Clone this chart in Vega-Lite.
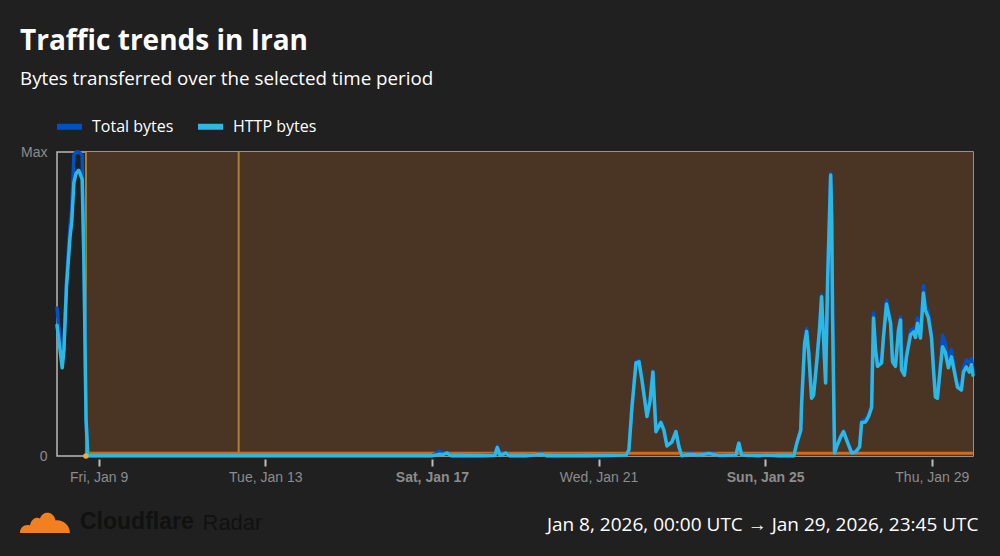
{
  "$schema": "https://vega.github.io/schema/vega-lite/v6.json",
  "width": 916,
  "height": 304,
  "autosize": "none",
  "padding": {"left": 57, "top": 152, "right": 27, "bottom": 100},
  "background": "#202020",
  "title": {
    "text": "Traffic trends in Iran",
    "subtitle": "Bytes transferred over the selected time period",
    "anchor": "start",
    "frame": "group",
    "dx": -37,
    "offset": 22,
    "font": "Open Sans",
    "fontSize": 28,
    "fontWeight": "bold",
    "color": "#ffffff",
    "subtitleFont": "Open Sans",
    "subtitleFontSize": 18.8,
    "subtitleColor": "#ffffff",
    "subtitlePadding": 14
  },
  "config": {
    "view": {"stroke": "#b8b8b8", "strokeWidth": 1.5, "fill": null}
  },
  "datasets": {
    "annot": [
      {"start": "2026-01-08T16:40:00Z", "end": "2026-01-29T23:45:00Z", "mark": "2026-01-12T08:40:00Z"}
    ],
    "traffic": [
      {"t": "2026-01-08T00:00:00Z", "total": 48.7, "http": 43},
      {"t": "2026-01-08T01:45:00Z", "total": 38, "http": 35},
      {"t": "2026-01-08T03:00:00Z", "total": 30, "http": 29},
      {"t": "2026-01-08T04:00:00Z", "total": 36.5, "http": 35},
      {"t": "2026-01-08T05:30:00Z", "total": 58, "http": 56},
      {"t": "2026-01-08T07:30:00Z", "total": 76, "http": 72},
      {"t": "2026-01-08T08:30:00Z", "total": 81, "http": 77},
      {"t": "2026-01-08T09:45:00Z", "total": 99, "http": 90},
      {"t": "2026-01-08T11:00:00Z", "total": 100, "http": 93},
      {"t": "2026-01-08T12:30:00Z", "total": 100, "http": 94},
      {"t": "2026-01-08T14:30:00Z", "total": 99, "http": 91},
      {"t": "2026-01-08T15:30:00Z", "total": 68, "http": 64},
      {"t": "2026-01-08T16:45:00Z", "total": 12, "http": 12},
      {"t": "2026-01-08T17:45:00Z", "total": 0.1, "http": 0.1},
      {"t": "2026-01-09T00:00:00Z", "total": 0.1, "http": 0.05},
      {"t": "2026-01-09T12:00:00Z", "total": 0.1, "http": 0.05},
      {"t": "2026-01-10T00:00:00Z", "total": 0.05, "http": 0.05},
      {"t": "2026-01-10T12:00:00Z", "total": 0.1, "http": 0.05},
      {"t": "2026-01-11T00:00:00Z", "total": 0.05, "http": 0.05},
      {"t": "2026-01-11T12:00:00Z", "total": 0.1, "http": 0.05},
      {"t": "2026-01-12T00:00:00Z", "total": 0.05, "http": 0.05},
      {"t": "2026-01-12T12:00:00Z", "total": 0.1, "http": 0.05},
      {"t": "2026-01-13T00:00:00Z", "total": 0.05, "http": 0.05},
      {"t": "2026-01-13T12:00:00Z", "total": 0.1, "http": 0.05},
      {"t": "2026-01-14T00:00:00Z", "total": 0.05, "http": 0.05},
      {"t": "2026-01-14T12:00:00Z", "total": 0.1, "http": 0.05},
      {"t": "2026-01-15T00:00:00Z", "total": 0.05, "http": 0.05},
      {"t": "2026-01-15T12:00:00Z", "total": 0.1, "http": 0.05},
      {"t": "2026-01-16T00:00:00Z", "total": 0.05, "http": 0.05},
      {"t": "2026-01-16T12:00:00Z", "total": 0.1, "http": 0.05},
      {"t": "2026-01-17T00:00:00Z", "total": 0.1, "http": 0.1},
      {"t": "2026-01-17T02:30:00Z", "total": 0.8, "http": 0.3},
      {"t": "2026-01-17T04:15:00Z", "total": 1.6, "http": 0.6},
      {"t": "2026-01-17T06:30:00Z", "total": 0.9, "http": 0.5},
      {"t": "2026-01-17T08:50:00Z", "total": 1.1, "http": 1.0},
      {"t": "2026-01-17T11:10:00Z", "total": 0.2, "http": 0.1},
      {"t": "2026-01-17T18:00:00Z", "total": 0.1, "http": 0.1},
      {"t": "2026-01-18T06:00:00Z", "total": 0.2, "http": 0.1},
      {"t": "2026-01-18T12:15:00Z", "total": 0.3, "http": 0.2},
      {"t": "2026-01-18T13:40:00Z", "total": 3.2, "http": 2.8},
      {"t": "2026-01-18T15:20:00Z", "total": 0.3, "http": 0.2},
      {"t": "2026-01-18T18:45:00Z", "total": 1.1, "http": 1.0},
      {"t": "2026-01-18T20:30:00Z", "total": 0.2, "http": 0.1},
      {"t": "2026-01-19T06:00:00Z", "total": 0.1, "http": 0.1},
      {"t": "2026-01-19T15:30:00Z", "total": 0.7, "http": 0.6},
      {"t": "2026-01-19T18:00:00Z", "total": 0.1, "http": 0.1},
      {"t": "2026-01-20T06:00:00Z", "total": 0.2, "http": 0.1},
      {"t": "2026-01-20T18:00:00Z", "total": 0.1, "http": 0.1},
      {"t": "2026-01-21T06:00:00Z", "total": 0.2, "http": 0.2},
      {"t": "2026-01-21T15:50:00Z", "total": 0.4, "http": 0.3},
      {"t": "2026-01-21T17:30:00Z", "total": 2.2, "http": 2},
      {"t": "2026-01-21T19:15:00Z", "total": 16.5, "http": 16},
      {"t": "2026-01-21T21:35:00Z", "total": 31, "http": 30.6},
      {"t": "2026-01-21T23:20:00Z", "total": 31.5, "http": 31},
      {"t": "2026-01-22T01:00:00Z", "total": 25.5, "http": 25},
      {"t": "2026-01-22T03:55:00Z", "total": 13.3, "http": 13},
      {"t": "2026-01-22T05:40:00Z", "total": 18.3, "http": 18},
      {"t": "2026-01-22T07:20:00Z", "total": 28, "http": 27.6},
      {"t": "2026-01-22T09:05:00Z", "total": 8.2, "http": 8},
      {"t": "2026-01-22T11:55:00Z", "total": 11.3, "http": 11},
      {"t": "2026-01-22T13:40:00Z", "total": 8.7, "http": 8.5},
      {"t": "2026-01-22T15:25:00Z", "total": 3.4, "http": 3.3},
      {"t": "2026-01-22T18:15:00Z", "total": 4.8, "http": 4.6},
      {"t": "2026-01-22T20:35:00Z", "total": 8.2, "http": 8},
      {"t": "2026-01-22T22:20:00Z", "total": 3.1, "http": 3},
      {"t": "2026-01-23T00:00:00Z", "total": 0.2, "http": 0.1},
      {"t": "2026-01-23T04:00:00Z", "total": 0.7, "http": 0.6},
      {"t": "2026-01-23T09:50:00Z", "total": 0.4, "http": 0.3},
      {"t": "2026-01-23T15:30:00Z", "total": 0.9, "http": 0.8},
      {"t": "2026-01-23T21:20:00Z", "total": 0.3, "http": 0.2},
      {"t": "2026-01-24T07:05:00Z", "total": 0.4, "http": 0.3},
      {"t": "2026-01-24T08:50:00Z", "total": 4.4, "http": 4.2},
      {"t": "2026-01-24T10:30:00Z", "total": 0.4, "http": 0.3},
      {"t": "2026-01-24T20:20:00Z", "total": 0.2, "http": 0.1},
      {"t": "2026-01-25T00:00:00Z", "total": 0.4, "http": 0.3},
      {"t": "2026-01-25T07:50:00Z", "total": 0.1, "http": 0.05},
      {"t": "2026-01-25T16:30:00Z", "total": 0.1, "http": 0.05},
      {"t": "2026-01-25T18:10:00Z", "total": 4.2, "http": 4},
      {"t": "2026-01-25T20:30:00Z", "total": 8.8, "http": 8.5},
      {"t": "2026-01-25T21:00:00Z", "total": 17.5, "http": 17},
      {"t": "2026-01-25T22:45:00Z", "total": 38, "http": 37},
      {"t": "2026-01-25T23:55:00Z", "total": 42, "http": 41},
      {"t": "2026-01-26T01:05:00Z", "total": 35, "http": 34},
      {"t": "2026-01-26T02:45:00Z", "total": 19.5, "http": 19},
      {"t": "2026-01-26T03:55:00Z", "total": 20.5, "http": 20},
      {"t": "2026-01-26T05:40:00Z", "total": 31, "http": 30.6},
      {"t": "2026-01-26T07:25:00Z", "total": 43, "http": 42.4},
      {"t": "2026-01-26T08:30:00Z", "total": 53, "http": 52.4},
      {"t": "2026-01-26T09:40:00Z", "total": 38.5, "http": 38},
      {"t": "2026-01-26T10:50:00Z", "total": 24.3, "http": 24},
      {"t": "2026-01-26T12:00:00Z", "total": 58.5, "http": 58},
      {"t": "2026-01-26T13:45:00Z", "total": 93, "http": 92.4},
      {"t": "2026-01-26T14:20:00Z", "total": 79, "http": 78.6},
      {"t": "2026-01-26T14:50:00Z", "total": 46.5, "http": 46},
      {"t": "2026-01-26T16:00:00Z", "total": 1.2, "http": 1},
      {"t": "2026-01-26T17:10:00Z", "total": 3.2, "http": 3},
      {"t": "2026-01-26T19:30:00Z", "total": 6.5, "http": 6.3},
      {"t": "2026-01-26T21:10:00Z", "total": 8.2, "http": 8},
      {"t": "2026-01-26T22:55:00Z", "total": 5.5, "http": 5.3},
      {"t": "2026-01-27T01:50:00Z", "total": 1.2, "http": 1},
      {"t": "2026-01-27T04:05:00Z", "total": 1.5, "http": 1.3},
      {"t": "2026-01-27T06:25:00Z", "total": 3.3, "http": 3},
      {"t": "2026-01-27T07:35:00Z", "total": 11.5, "http": 11},
      {"t": "2026-01-27T09:50:00Z", "total": 12.2, "http": 11.2},
      {"t": "2026-01-27T11:35:00Z", "total": 13.6, "http": 13},
      {"t": "2026-01-27T13:20:00Z", "total": 16.6, "http": 16},
      {"t": "2026-01-27T14:25:00Z", "total": 47, "http": 45.4},
      {"t": "2026-01-27T15:35:00Z", "total": 36, "http": 35},
      {"t": "2026-01-27T16:45:00Z", "total": 30.3, "http": 29.5},
      {"t": "2026-01-27T19:05:00Z", "total": 31.5, "http": 30.6},
      {"t": "2026-01-27T20:10:00Z", "total": 40, "http": 39},
      {"t": "2026-01-27T21:55:00Z", "total": 51.3, "http": 50},
      {"t": "2026-01-28T00:15:00Z", "total": 44.5, "http": 43.7},
      {"t": "2026-01-28T01:25:00Z", "total": 31.8, "http": 31},
      {"t": "2026-01-28T03:05:00Z", "total": 30.3, "http": 29.5},
      {"t": "2026-01-28T04:50:00Z", "total": 42.2, "http": 41.4},
      {"t": "2026-01-28T06:00:00Z", "total": 45.7, "http": 44.7},
      {"t": "2026-01-28T06:35:00Z", "total": 29, "http": 28.3},
      {"t": "2026-01-28T08:15:00Z", "total": 27.4, "http": 26.6},
      {"t": "2026-01-28T09:25:00Z", "total": 33.5, "http": 32.6},
      {"t": "2026-01-28T11:45:00Z", "total": 41.4, "http": 39.8},
      {"t": "2026-01-28T13:30:00Z", "total": 42, "http": 40.8},
      {"t": "2026-01-28T14:35:00Z", "total": 40, "http": 39},
      {"t": "2026-01-28T15:45:00Z", "total": 45.4, "http": 43.7},
      {"t": "2026-01-28T17:30:00Z", "total": 39.5, "http": 38.8},
      {"t": "2026-01-28T19:10:00Z", "total": 56, "http": 53.6},
      {"t": "2026-01-28T20:20:00Z", "total": 49.7, "http": 48},
      {"t": "2026-01-28T22:05:00Z", "total": 47, "http": 45.4},
      {"t": "2026-01-28T23:50:00Z", "total": 40.2, "http": 39},
      {"t": "2026-01-29T01:00:00Z", "total": 29.3, "http": 28.3},
      {"t": "2026-01-29T02:05:00Z", "total": 20.4, "http": 19.4},
      {"t": "2026-01-29T03:15:00Z", "total": 20, "http": 19},
      {"t": "2026-01-29T05:00:00Z", "total": 30.8, "http": 29.3},
      {"t": "2026-01-29T06:10:00Z", "total": 39.8, "http": 35.9},
      {"t": "2026-01-29T07:50:00Z", "total": 37, "http": 34},
      {"t": "2026-01-29T09:35:00Z", "total": 31, "http": 29},
      {"t": "2026-01-29T11:20:00Z", "total": 35, "http": 32.6},
      {"t": "2026-01-29T13:05:00Z", "total": 28.6, "http": 27.6},
      {"t": "2026-01-29T14:45:00Z", "total": 23.7, "http": 22.7},
      {"t": "2026-01-29T17:05:00Z", "total": 22.5, "http": 21.7},
      {"t": "2026-01-29T18:15:00Z", "total": 29.3, "http": 27.6},
      {"t": "2026-01-29T19:55:00Z", "total": 31.6, "http": 29.3},
      {"t": "2026-01-29T21:40:00Z", "total": 30.5, "http": 27.6},
      {"t": "2026-01-29T22:50:00Z", "total": 32, "http": 30},
      {"t": "2026-01-29T23:45:00Z", "total": 28, "http": 26.6}
    ]
  },
  "layer": [
    {
      "data": {"name": "annot"},
      "mark": {"type": "rect", "color": "#4a3524"},
      "encoding": {
        "x": {"field": "start", "type": "temporal"},
        "x2": {"field": "end"}
      }
    },
    {
      "data": {"name": "annot"},
      "mark": {"type": "rule", "color": "#a8822e", "strokeWidth": 2},
      "encoding": {
        "x": {"field": "start", "type": "temporal"}
      }
    },
    {
      "data": {"name": "annot"},
      "mark": {"type": "rule", "color": "#a8822e", "strokeWidth": 2},
      "encoding": {
        "x": {"field": "mark", "type": "temporal"}
      }
    },
    {
      "data": {"name": "annot"},
      "mark": {"type": "rule", "color": "#d06c1e", "strokeWidth": 3},
      "encoding": {
        "x": {"field": "start", "type": "temporal"},
        "x2": {"field": "end"},
        "y": {"datum": 0.9, "type": "quantitative"}
      }
    },
    {
      "data": {"name": "traffic"},
      "mark": {"type": "line", "strokeWidth": 3.5, "strokeJoin": "round", "strokeCap": "round"},
      "encoding": {
        "x": {
          "field": "t",
          "type": "temporal",
          "scale": {
            "type": "utc",
            "domain": [
              {"year": 2026, "month": 1, "date": 8, "hours": 0, "minutes": 0, "utc": true},
              {"year": 2026, "month": 1, "date": 29, "hours": 23, "minutes": 45, "utc": true}
            ]
          },
          "axis": {
            "values": [
              {"year": 2026, "month": 1, "date": 9, "utc": true},
              {"year": 2026, "month": 1, "date": 13, "utc": true},
              {"year": 2026, "month": 1, "date": 17, "utc": true},
              {"year": 2026, "month": 1, "date": 21, "utc": true},
              {"year": 2026, "month": 1, "date": 25, "utc": true},
              {"year": 2026, "month": 1, "date": 29, "utc": true}
            ],
            "labelExpr": "utcFormat(datum.value, '%a, %b %-d')",
            "labelFontWeight": {"condition": {"test": "utcdate(datum.value) == 17 || utcdate(datum.value) == 25", "value": "bold"}, "value": "normal"},
            "labelFont": "Liberation Sans",
            "labelFontSize": 14,
            "labelColor": "#8c8c8c",
            "labelPadding": 4,
            "labelFlush": false,
            "labelOverlap": false,
            "tickColor": "#bdbdbd",
            "tickSize": 7,
            "tickWidth": 2,
            "offset": 3,
            "domain": false,
            "grid": false,
            "title": "Jan 8, 2026, 00:00 UTC → Jan 29, 2026, 23:45 UTC",
            "titleX": 921,
            "titleY": 71,
            "titleAlign": "right",
            "titleBaseline": "alphabetic",
            "titleFont": "Open Sans",
            "titleFontSize": 19,
            "titleFontWeight": "normal",
            "titleColor": "#ffffff"
          }
        },
        "y": {
          "field": "total",
          "type": "quantitative",
          "scale": {"domain": [0, 100], "nice": false, "zero": true},
          "axis": {
            "values": [0, 100],
            "labelExpr": "datum.value == 0 ? '0' : 'Max'",
            "ticks": false,
            "domain": false,
            "grid": false,
            "labelFlush": false,
            "labelFont": "Liberation Sans",
            "labelFontSize": 14,
            "labelColor": "#8c8c8c",
            "labelPadding": 10,
            "title": "Radar",
            "titleAngle": 0,
            "titleX": 145,
            "titleY": 377,
            "titleAlign": "left",
            "titleBaseline": "alphabetic",
            "titleFont": "Liberation Sans",
            "titleFontSize": 22,
            "titleFontWeight": "normal",
            "titleColor": "#111111"
          }
        },
        "color": {
          "datum": "Total bytes",
          "type": "nominal",
          "scale": {"domain": ["Total bytes", "HTTP bytes"], "range": ["#0051c3", "#2db7e3"]},
          "legend": {
            "orient": "none",
            "legendX": -3,
            "legendY": -41,
            "direction": "horizontal",
            "title": null,
            "symbolType": "stroke",
            "symbolSize": 625,
            "symbolStrokeWidth": 6,
            "labelFont": "Open Sans",
            "labelFontSize": 16,
            "labelColor": "#ffffff",
            "labelOffset": 7,
            "columnPadding": 12,
            "padding": 0
          }
        }
      }
    },
    {
      "data": {"name": "traffic"},
      "mark": {"type": "line", "strokeWidth": 3.5, "strokeJoin": "round", "strokeCap": "round"},
      "encoding": {
        "x": {"field": "t", "type": "temporal"},
        "y": {"field": "http", "type": "quantitative"},
        "color": {"datum": "HTTP bytes", "type": "nominal"}
      }
    },
    {
      "data": {"name": "annot"},
      "mark": {"type": "point", "filled": true, "color": "#f2a93b", "size": 30, "opacity": 1},
      "encoding": {
        "x": {"field": "start", "type": "temporal"},
        "y": {"datum": 0, "type": "quantitative"}
      }
    },
    {
      "data": {"name": "annot"},
      "mark": {"type": "point", "filled": true, "color": "#f38020", "size": 2500, "opacity": 0},
      "encoding": {
        "x": {"field": "start", "type": "temporal"},
        "y": {"datum": 50, "type": "quantitative"},
        "shape": {
          "datum": "Cloudflare",
          "type": "nominal",
          "scale": {"domain": ["Cloudflare"], "range": ["M-1,0.44 C-1,0.2 -0.8,0.08 -0.6,0.14 C-0.55,-0.12 -0.35,-0.22 -0.2,-0.14 C-0.1,-0.46 0.35,-0.46 0.42,-0.06 C0.7,-0.1 0.98,0.1 1,0.44 Z"]},
          "legend": {
            "orient": "none",
            "legendX": -37,
            "legendY": 345,
            "title": null,
            "symbolSize": 2500,
            "symbolFillColor": "#f38020",
            "symbolStrokeColor": "#f38020",
            "symbolStrokeWidth": 0,
            "symbolOpacity": 1,
            "labelFont": "Liberation Sans",
            "labelFontSize": 23,
            "labelFontWeight": "bold",
            "labelColor": "#111111",
            "labelOffset": 10,
            "padding": 0
          }
        }
      }
    }
  ]
}
